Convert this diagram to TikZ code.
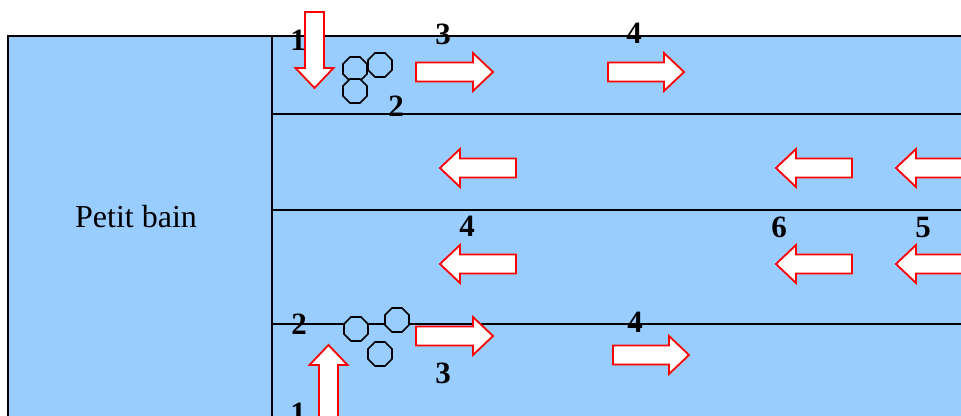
\documentclass[tikz,border=0pt]{standalone}
\usepackage{fontspec}
\setmainfont{Liberation Serif}
\usetikzlibrary{shapes.geometric}
\definecolor{pool}{HTML}{99CCFF}
\begin{document}
\begin{tikzpicture}[x=1pt,y=-1pt,
  wall/.style={draw=black, line width=1.8pt},
  flow/.style={draw=red, fill=white, line width=1.8pt, line join=miter},
  num/.style={font=\fontsize{31}{31}\selectfont\bfseries, inner sep=0pt},
  buoy/.style={regular polygon, regular polygon sides=8, minimum size=26pt,
    inner sep=0pt, draw=black, fill=pool, line width=1.6pt},
  pics/flowarrow/.style={code={
    \draw[flow] (0,-9.5) -- ({#1-20},-9.5) -- ({#1-20},-19) -- (#1,0)
      -- ({#1-20},19) -- ({#1-20},9.5) -- (0,9.5) -- cycle;}}]
\useasboundingbox (0,0) rectangle (961,415);
\clip (0,0) rectangle (961,415);

% pool areas
\fill[pool] (8,36) rectangle (980,430);
\draw[wall] (8,430) -- (8,36) -- (980,36);
\draw[wall] (272,36) -- (272,430);
\draw[wall] (272,114) -- (980,114);
\draw[wall] (272,210) -- (980,210);
\draw[wall] (272,324) -- (980,324);

\node[font=\fontsize{32}{32}\selectfont, inner sep=0pt] (petit) at (136,217) {Petit bain};

% floats
\node[buoy] (fa) at (355,69) {};
\node[buoy] (fb) at (380,65) {};
\node[buoy] (fc) at (355,91) {};
\node[buoy] (fd) at (356,329) {};
\node[buoy] (fe) at (397,320) {};
\node[buoy] (ff) at (380,354) {};

% flow arrows
\pic (a1) [rotate=-90] at (314.5,12) {flowarrow=76};
\pic (a2) at (416,72) {flowarrow=77};
\pic (a3) at (608,72) {flowarrow=76};
\pic (a4) [rotate=180] at (516,168) {flowarrow=76};
\pic (a5) [rotate=180] at (852,168) {flowarrow=76};
\pic (a6) [rotate=180] at (972,168) {flowarrow=76};
\pic (a7) [rotate=180] at (516,264) {flowarrow=76};
\pic (a8) [rotate=180] at (852,264) {flowarrow=76};
\pic (a9) [rotate=180] at (972,264) {flowarrow=76};
\pic (a10) at (416,336) {flowarrow=77};
\pic (a11) at (613,355) {flowarrow=76};
\pic (a12) [rotate=90] at (328.5,425) {flowarrow=80};

% labels
\node[num] (n1) at (298,40) {1};
\node[num] (n2) at (443,34) {3};
\node[num] (n3) at (634,33) {4};
\node[num] (n4) at (396,106) {2};
\node[num] (n5) at (467,226) {4};
\node[num] (n6) at (779,227) {6};
\node[num] (n7) at (923,227) {5};
\node[num] (n8) at (299,324) {2};
\node[num] (n9) at (635,322) {4};
\node[num] (n10) at (443,373) {3};
\node[num] (n11) at (298,413) {1};
\end{tikzpicture}
\end{document}
